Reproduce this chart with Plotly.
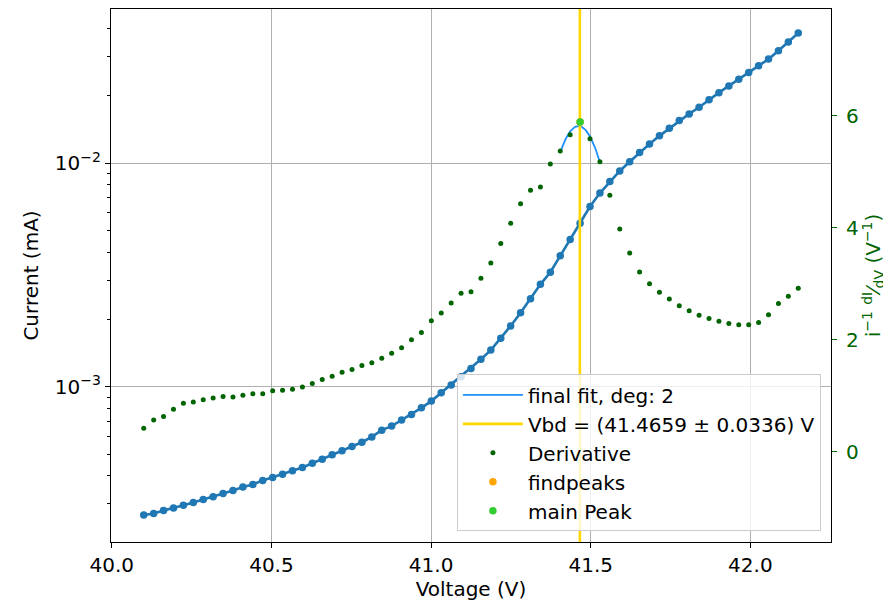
import numpy as np
import plotly.graph_objects as go

voltage = [40.1000, 40.1311, 40.1621, 40.1932, 40.2242, 40.2553, 40.2864, 40.3174, 40.3485, 40.3795,
           40.4106, 40.4417, 40.4727, 40.5038, 40.5348, 40.5659, 40.5970, 40.6280, 40.6591, 40.6902,
           40.7212, 40.7523, 40.7833, 40.8144, 40.8455, 40.8765, 40.9076, 40.9386, 40.9697, 41.0008,
           41.0318, 41.0629, 41.0939, 41.1250, 41.1561, 41.1871, 41.2182, 41.2492, 41.2803, 41.3114,
           41.3424, 41.3735, 41.4045, 41.4356, 41.4667, 41.4977, 41.5288, 41.5598, 41.5909, 41.6220,
           41.6530, 41.6841, 41.7152, 41.7462, 41.7773, 41.8083, 41.8394, 41.8705, 41.9015, 41.9326,
           41.9636, 41.9947, 42.0258, 42.0568, 42.0879, 42.1189, 42.1500]

current_mA = [2.67e-4, 2.71e-4, 2.80e-4, 2.87e-4, 2.95e-4, 3.04e-4, 3.13e-4, 3.22e-4, 3.33e-4, 3.44e-4,
              3.56e-4, 3.66e-4, 3.81e-4, 3.93e-4, 4.06e-4, 4.21e-4, 4.36e-4, 4.55e-4, 4.74e-4, 4.97e-4,
              5.18e-4, 5.41e-4, 5.65e-4, 5.97e-4, 6.40e-4, 6.67e-4, 7.10e-4, 7.52e-4, 8.05e-4, 8.63e-4,
              9.40e-4, 1.019e-3, 1.109e-3, 1.208e-3, 1.327e-3, 1.459e-3, 1.648e-3, 1.871e-3, 2.143e-3, 2.472e-3,
              2.871e-3, 3.251e-3, 3.855e-3, 4.550e-3, 5.383e-3, 6.397e-3, 7.345e-3, 8.279e-3, 9.226e-3, 1.014e-2,
              1.114e-2, 1.216e-2, 1.324e-2, 1.432e-2, 1.549e-2, 1.660e-2, 1.778e-2, 1.919e-2, 2.065e-2, 2.213e-2,
              2.371e-2, 2.541e-2, 2.723e-2, 2.917e-2, 3.177e-2, 3.475e-2, 3.819e-2]

derivative = [0.42, 0.57, 0.63, 0.76, 0.87, 0.89, 0.93, 0.96, 0.99, 0.98,
              1.01, 1.04, 1.04, 1.09, 1.10, 1.12, 1.16, 1.22, 1.29, 1.35,
              1.42, 1.47, 1.54, 1.59, 1.67, 1.76, 1.86, 2.00, 2.13, 2.34,
              2.48, 2.66, 2.83, 2.86, 3.10, 3.37, 3.72, 4.08, 4.43, 4.67,
              4.73, 5.14, 5.37, 5.66, 5.89, 5.59, 5.18, 4.58, 3.98, 3.55,
              3.21, 3.00, 2.85, 2.73, 2.61, 2.52, 2.44, 2.38, 2.33, 2.29,
              2.27, 2.27, 2.31, 2.45, 2.65, 2.78, 2.92]

fit_start, fit_end = 42, 46      # indices of derivative points used in the fit
peak_index = 44                  # index of main peak
vbd = 41.4659
vbd_err = 0.0336

x_ticks = [40.0, 40.5, 41.0, 41.5, 42.0]
y_major = [1e-3, 1e-2]
y_major_text = ["10<sup>−3</sup>", "10<sup>−2</sup>"]
y_minor = [3e-4, 4e-4, 5e-4, 6e-4, 7e-4, 8e-4, 9e-4,
           2e-3, 3e-3, 4e-3, 5e-3, 6e-3, 7e-3, 8e-3, 9e-3,
           2e-2, 3e-2, 4e-2]
y2_ticks = [0, 2, 4, 6]

FONT = "DejaVu Sans"
FS = 20
GREEN = "#006400"

# quadratic fit around the peak
fx = np.array(voltage[fit_start:fit_end + 1])
fy = np.array(derivative[fit_start:fit_end + 1])
coef = np.polyfit(fx, fy, 2)
xf = np.linspace(fx[0], fx[-1], 100)
yf = np.polyval(coef, xf)

y2_range = [-1.609, 7.907]

fig = go.Figure()

fig.add_trace(go.Scatter(
    x=voltage, y=current_mA, mode="lines+markers",
    line=dict(color="#1f77b4", width=2.6),
    marker=dict(color="#1f77b4", size=7.5),
    showlegend=False, yaxis="y"))

fig.add_trace(go.Scatter(
    x=xf, y=yf, mode="lines", name="final fit, deg: 2",
    line=dict(color="#1E90FF", width=1.8), yaxis="y2"))

fig.add_trace(go.Scatter(
    x=[vbd, vbd], y=y2_range, mode="lines",
    name=f"Vbd = ({vbd:.4f} ± {vbd_err:.4f}) V",
    line=dict(color="#FFD700", width=2.6), yaxis="y2"))

fig.add_trace(go.Scatter(
    x=voltage, y=derivative, mode="markers", name="Derivative",
    marker=dict(color=GREEN, size=5), yaxis="y2"))

fig.add_trace(go.Scatter(
    x=[voltage[peak_index]], y=[derivative[peak_index]], mode="markers",
    name="findpeaks", marker=dict(color="#FFA500", size=7.5), yaxis="y2"))

fig.add_trace(go.Scatter(
    x=[voltage[peak_index]], y=[derivative[peak_index]], mode="markers",
    name="main Peak", marker=dict(color="#32CD32", size=7.5), yaxis="y2"))

fig.update_layout(
    width=883, height=597,
    margin=dict(l=103, r=60, t=1, b=63, autoexpand=False),
    paper_bgcolor="white", plot_bgcolor="white",
    font=dict(family=FONT, size=FS, color="black"),
    xaxis=dict(
        range=[39.9975, 42.2525], tickvals=x_ticks, tickformat=".1f",
        showgrid=True, gridcolor="#b0b0b0", gridwidth=1.1,
        showline=True, linecolor="black", linewidth=1.1, mirror=True,
        ticks="outside", ticklen=5, tickwidth=1.1, tickcolor="black",
        zeroline=False, automargin=False,
        title=dict(text="Voltage (V)", font=dict(size=FS), standoff=5)),
    yaxis=dict(
        type="log", range=[-3.694, -1.311],
        tickmode="array", tickvals=y_major, ticktext=y_major_text,
        showgrid=True, gridcolor="#b0b0b0", gridwidth=1.1,
        showline=True, linecolor="black", linewidth=1.1, mirror=True,
        ticks="outside", ticklen=5, tickwidth=1.1, tickcolor="black",
        minor=dict(tickmode="array", tickvals=y_minor, ticks="outside",
                   ticklen=3, tickwidth=0.8, tickcolor="black", showgrid=False),
        zeroline=False, automargin=False,
        title=dict(text="Current (mA)", font=dict(size=FS), standoff=10)),
    yaxis2=dict(
        overlaying="y", side="right", range=y2_range,
        tickvals=y2_ticks, showgrid=False, zeroline=False,
        ticks="outside", ticklen=5, tickwidth=1.1, tickcolor=GREEN,
        tickfont=dict(color=GREEN, size=FS), ticklabelstandoff=5,
        showline=False, automargin=False,
        title=dict(text="i<sup>−1</sup> <sup>dI</sup>⁄<sub>dV</sub> (V<sup>−1</sup>)",
                   font=dict(color=GREEN, size=FS), standoff=3)),
    legend=dict(
        x=0.986, y=0.02, xanchor="right", yanchor="bottom",
        bgcolor="rgba(255,255,255,0.8)", bordercolor="#cccccc", borderwidth=1,
        font=dict(size=FS, family=FONT), traceorder="normal", itemwidth=60),
)

fig.write_html("out.html")
